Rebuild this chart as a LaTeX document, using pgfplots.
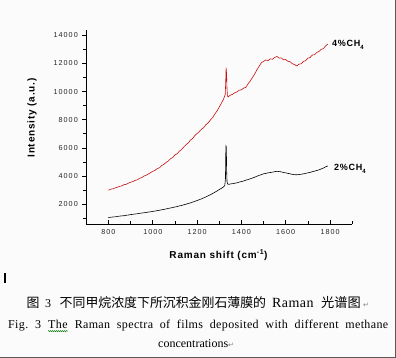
\documentclass[border=0pt]{standalone}
\usepackage{fontspec}
\usepackage{pgfplots}
\pgfplotsset{compat=1.18}
\usetikzlibrary{decorations.pathmorphing}
\setmainfont{Liberation Serif}
\newfontfamily\cjk{Noto Sans CJK SC}
\newfontfamily\tickfont[LetterSpace=14]{Liberation Sans}
\newfontfamily\labfont[LetterSpace=8]{Liberation Sans}
\newfontfamily\serifsp[LetterSpace=3]{Liberation Serif}
\newfontfamily\dejavu{DejaVu Sans}
\definecolor{specred}{HTML}{C81010}
\newcommand\ret{{\dejavu\fontsize{7}{8}\selectfont\textcolor{gray}{↵}}}
\newcommand\wavy[1]{\tikz[baseline=(w.base)]{\node[inner sep=0pt](w){#1};\draw[green!45!black,line width=0.4pt,decorate,decoration={snake,amplitude=0.6pt,segment length=2pt}]([yshift=-1.8pt]w.south west)--([yshift=-1.8pt]w.south east);}}
\frenchspacing
\begin{document}
\begin{tikzpicture}[x=1pt,y=1pt]
\useasboundingbox (0,0) rectangle (396,358);
\fill[gray!3] (0,0) rectangle (396,358);
\draw[gray!70!black,line width=0.8pt] (395.6,0) -- (395.6,358);
\draw[gray!70!black,line width=0.8pt] (0,0.4) -- (396,0.4);
\begin{axis}[
  at={(86.3pt,133.7pt)}, anchor=south west,
  scale only axis, width=265.9pt, height=194.3pt,
  xmin=700, xmax=1900, ymin=560, ymax=14380,
  axis x line*=bottom, axis y line*=left,
  axis line style={line width=0.7pt, -},
  xtick={800,1000,...,1800}, minor xtick={700,900,...,1900},
  ytick={2000,4000,...,14000}, minor ytick={1000,3000,...,13000},
  x tick style={line width=0.6pt, black}, 
  y tick style={line width=0.6pt, black},
  xtick align=inside, ytick align=outside,
  major tick length=4pt, minor tick length=3pt,
  /pgf/number format/assume math mode=true,
  /pgf/number format/set thousands separator={},
  ticklabel style={font=\tickfont\fontsize{7.2}{8}\selectfont, text=black!85},
  xticklabel style={yshift=-2pt},
  yticklabel style={xshift=-1pt},
  scaled y ticks=false,
]
\addplot[specred, line width=0.6pt] coordinates {
(800,2980)(810,3060)(820,3080)(830,3150)(840,3190)(850,3260)(860,3290)(870,3380)(880,3400)(890,3490)
(900,3550)(910,3600)(920,3680)(930,3720)(940,3830)(950,3880)(960,3990)(970,4050)(980,4140)(990,4230)
(1000,4330)(1010,4390)(1020,4520)(1030,4580)(1040,4740)(1050,4820)(1060,4960)(1070,5060)(1080,5220)(1090,5310)
(1100,5500)(1110,5580)(1120,5760)(1130,5880)(1140,6060)(1150,6220)(1160,6340)(1170,6550)(1180,6660)(1190,6880)
(1200,7020)(1210,7150)(1220,7330)(1230,7440)(1240,7650)(1250,7780)(1260,7980)(1270,8150)(1280,8400)(1290,8620)
(1300,8900)(1310,9180)(1318,9420)(1324,9650)(1327,9800)(1329,10600)(1331,11700)(1333,11300)(1335,10200)(1337,9700)
(1340,9620)(1350,9750)(1360,9800)(1370,9920)(1380,9980)(1390,10100)(1400,10120)(1410,10250)(1420,10300)(1430,10550)
(1440,10760)(1450,11000)(1460,11250)(1470,11550)(1480,11800)(1490,12050)(1500,12150)(1510,12250)(1520,12200)(1530,12330)
(1540,12300)(1550,12420)(1560,12500)(1570,12380)(1580,12400)(1590,12260)(1600,12280)(1610,12150)(1620,12120)(1630,11980)
(1640,11920)(1650,11820)(1660,11950)(1670,11980)(1680,12150)(1690,12200)(1700,12380)(1710,12420)(1720,12600)(1730,12620)
(1740,12780)(1750,12850)(1760,13000)(1770,13050)(1780,13250)(1790,13380)
};
\addplot[black, line width=0.6pt] coordinates {
(800,1040)(810,1060)(820,1080)(830,1090)(840,1120)(850,1140)(860,1160)(870,1170)(880,1200)(890,1220)
(900,1250)(910,1270)(920,1290)(930,1310)(940,1340)(950,1360)(960,1380)(970,1400)(980,1430)(990,1450)
(1000,1480)(1010,1500)(1020,1530)(1030,1560)(1040,1590)(1050,1620)(1060,1650)(1070,1690)(1080,1720)(1090,1750)
(1100,1790)(1110,1820)(1120,1870)(1130,1900)(1140,1950)(1150,1990)(1160,2040)(1170,2080)(1180,2140)(1190,2190)
(1200,2250)(1210,2310)(1220,2370)(1230,2440)(1240,2510)(1250,2590)(1260,2660)(1270,2750)(1280,2840)(1290,2930)
(1300,3030)(1310,3120)(1320,3230)(1325,3330)(1328,3800)(1330,6200)(1331,5000)(1332,6100)(1333,4600)(1335,3600)
(1338,3420)(1345,3400)(1350,3430)(1360,3450)(1370,3480)(1380,3510)(1390,3560)(1400,3600)(1410,3640)(1420,3700)
(1430,3740)(1440,3800)(1450,3850)(1460,3910)(1470,3980)(1480,4040)(1490,4090)(1500,4150)(1510,4180)(1520,4220)
(1530,4240)(1540,4270)(1550,4300)(1560,4330)(1570,4310)(1580,4290)(1590,4240)(1600,4220)(1610,4180)(1620,4150)
(1630,4110)(1640,4090)(1650,4080)(1660,4100)(1670,4120)(1680,4150)(1690,4180)(1700,4220)(1710,4250)(1720,4300)
(1730,4340)(1740,4390)(1750,4430)(1760,4500)(1770,4560)(1780,4650)(1790,4710)
};
\end{axis}
% series labels
\node[anchor=west, inner sep=0pt, font=\labfont\bfseries\fontsize{9}{9}\selectfont] at (332,313) {4\%CH\raisebox{-3pt}{\fontsize{6}{6}\selectfont 4}};
\node[anchor=west, inner sep=0pt, font=\labfont\bfseries\fontsize{9}{9}\selectfont] at (334,189) {2\%CH\raisebox{-3pt}{\fontsize{6}{6}\selectfont 4}};
% axis labels
\node[font=\labfont\bfseries\fontsize{10}{11}\selectfont] at (218.5,103) {Raman shift (cm\textsuperscript{-1})};
\node[rotate=90, font=\labfont\bfseries\fontsize{10}{11}\selectfont] at (32,240) {Intensity (a.u.)};
% cursor
\fill[black] (4.2,75) rectangle (6.2,85);
% Chinese caption line
\begin{scope}[every node/.style={anchor=base west, inner sep=0pt}]
\node[font=\cjk\fontsize{12.9}{14}\selectfont] at (26.5,50) {图};
\node[font=\fontsize{12}{14}\selectfont] at (45,50) {3};
\node[font=\cjk\fontsize{12.9}{14}\selectfont] at (59.5,50) {不同甲烷浓度下所沉积金刚石薄膜的};
\node[font=\serifsp\fontsize{14}{14}\selectfont] at (272,50) {Raman};
\node[font=\cjk\fontsize{13.2}{14}\selectfont] at (321,50) {光谱图};
\node at (363,50) {\ret};
% English caption
\node[font=\serifsp\fontsize{12}{14}\selectfont] at (8,29) {\makebox[380pt][s]{Fig. 3 \wavy{The} Raman spectra of films deposited with different methane}};
\node[font=\fontsize{12}{14}\selectfont] at (158,10.5) {concentrations\ret};
\end{scope}
\end{tikzpicture}
\end{document}
